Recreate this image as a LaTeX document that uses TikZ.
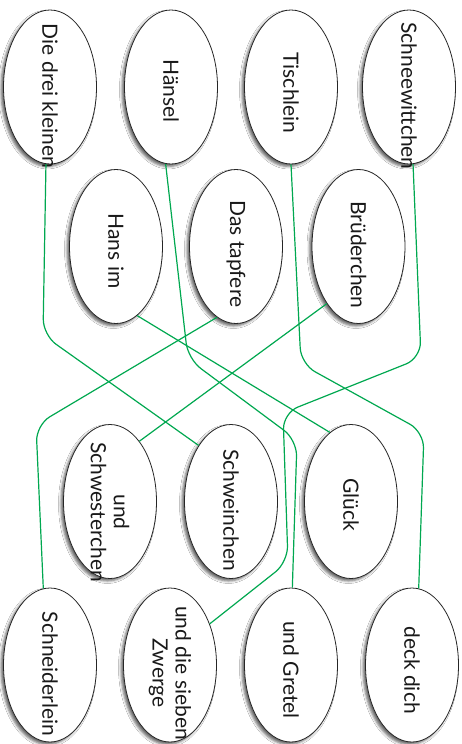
\documentclass[tikz,border=0pt]{standalone}
\usepackage{fontspec}
\setmainfont{Lato}
\usetikzlibrary{shapes.geometric,shadows.blur}
\definecolor{lgreen}{RGB}{0,168,80}
\begin{document}
\begin{tikzpicture}[x=1pt,y=-1pt,
  oval/.style={ellipse, draw=black!85, line width=0.8pt, fill=white,
    minimum width=93pt, minimum height=154pt, inner sep=0pt,
    blur shadow={shadow xshift=-2.5pt, shadow yshift=-2.5pt, shadow blur radius=2.5pt, shadow opacity=60}},
  lbl/.style={rotate=-90, align=center, font=\fontsize{21}{23}\selectfont, text=black!90, inner sep=0pt},
  link/.style={draw=lgreen, line width=1.2pt, rounded corners=16pt}]
\fill[white] (0,0) rectangle (462,744);
\useasboundingbox (0,0) rectangle (462,744);
% row 1
\node[oval] (die) at (50,87) {};
\node[oval] (haensel) at (171,87) {};
\node[oval] (tisch) at (291,87) {};
\node[oval] (schnee) at (409,87) {};
% row 2
\node[oval] (hans) at (116,246.5) {};
\node[oval] (tapfer) at (236,246.5) {};
\node[oval] (brueder) at (358.5,246.5) {};
% row 3
\node[oval] (undschw) at (110,501.5) {};
\node[oval] (schwein) at (231,501.5) {};
\node[oval] (glueck) at (351,501.5) {};
% row 4
\node[oval] (schneider) at (50,665) {};
\node[oval] (zwerge) at (170,665) {};
\node[oval] (gretel) at (291,665) {};
\node[oval] (deck) at (412,665) {};
% labels
\node[lbl] (die-t) at (50,96) {Die drei kleinen};
\node[lbl] (haensel-t) at (171,91) {Hänsel};
\node[lbl] (tisch-t) at (291,93) {Tischlein};
\node[lbl] (schnee-t) at (409,96) {Schneewittchen};
\node[lbl] (hans-t) at (116,251) {Hans im};
\node[lbl] (tapfer-t) at (236,254) {Das tapfere};
\node[lbl] (brueder-t) at (358.5,255) {Brüderchen};
\node[lbl] (undschw-t) at (110,512) {und\\Schwesterchen};
\node[lbl] (schwein-t) at (231,510) {Schweinchen};
\node[lbl] (glueck-t) at (351,505) {Glück};
\node[lbl] (schneider-t) at (50,674) {Schneiderlein};
\node[lbl] (zwerge-t) at (170,673) {und die sieben\\Zwerge};
\node[lbl] (gretel-t) at (291,670) {und Gretel};
\node[lbl] (deck-t) at (412,670) {deck dich};
% connectors
\draw[link] (die.267) -- (43,335) -- (schwein.120);
\draw[link] (haensel.266) -- (188,359) -- (297,440) -- (gretel.89);
\draw[link] (tisch.270) -- (301,364) -- (424,432) -- (deck.85);
\draw[link] (schnee.273) -- (421,358) -- (283,413) -- (288,562) -- (zwerge.46);
\draw[link] (hans.287) -- (glueck.107);
\draw[link] (tapfer.255) -- (36,425) -- (schneider.95);
\draw[link] (brueder.241) -- (undschw.64);
\end{tikzpicture}
\end{document}
